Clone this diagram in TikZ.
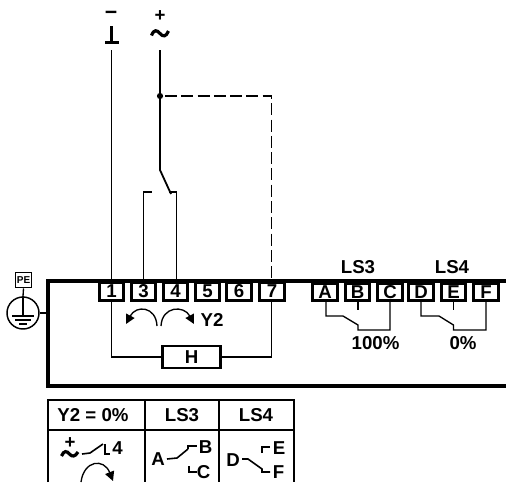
\documentclass[tikz,border=0pt]{standalone}
\usepackage{fontspec}
\setmainfont{Liberation Sans}
\usetikzlibrary{arrows.meta}
\tikzset{
  x=0.75pt,y=-0.75pt,
  lab/.style={inner sep=0pt,font=\fontsize{14}{15}\selectfont\bfseries},
  term/.style={draw,line width=2.2pt,minimum width=18.6pt,minimum height=13pt,inner sep=0pt,font=\fontsize{14}{15}\selectfont\bfseries},
  wire/.style={line width=1pt},
  frame/.style={line width=2.6pt},
  thickw/.style={line width=1.35pt},
  tline/.style={line width=1.15pt},
  sym/.style={line width=1.2pt},
  turn/.style={line width=1pt,-{Triangle[length=7pt,width=7pt]}},
}
\begin{document}
\begin{tikzpicture}
\useasboundingbox (0,0) rectangle (506,482);
% frame
\coordinate (ftr) at (506,281);
\coordinate (ftl) at (48,281);
\coordinate (fbl) at (48,386);
\coordinate (fbr) at (506,386);
\draw[frame,line cap=butt] (ftr) -- (ftl) -- (fbl) -- (fbr);
% terminals
\foreach \n/\x in {1/111.5,3/143.5,4/175.5,5/207.5,6/239,7/272}
  \node[term,fill=white] (t\n) at (\x,291.5) {\n};
\foreach \n/\x in {A/325,B/357.5,C/390,D/421,E/453.5,F/486}
  \node[term,fill=white] (t\n) at (\x,292) {\n};
% supply
\node[lab,font=\fontsize{16}{16}\selectfont\bfseries] (minus) at (111,15) {−};
\node[lab] (plus) at (160,16.5) {+};
\coordinate (gt) at (111.5,26);
\coordinate (gb) at (111.5,42.5);
\draw[line width=2.2pt] (gt) -- (gb);
\draw[line width=2.4pt] (105,42.5) -- (118.5,42.5);
\draw[line width=2.4pt] (151.5,35.5) .. controls (154,29) and (157,30) .. (160,33.5) .. controls (163,37) and (166,37) .. (168.5,31);
\coordinate (gw) at (111.5,50);
\coordinate (pw) at (160,50);
\coordinate (dot) at (160,96);
\coordinate (dots) at (165,96);
\coordinate (sw) at (160,170);
\coordinate (swe) at (171,194);
\coordinate (c3) at (143.5,192);
\coordinate (c3e) at (152,192);
\coordinate (c4) at (176.5,192);
\coordinate (c4b) at (176.5,281);
\coordinate (c4e) at (169,192);
\coordinate (dc) at (271.5,96);
\coordinate (dcb) at (271.5,281);
\draw[wire] (gw) -- (t1.north);
\draw[thickw] (pw) -- (dot) -- (sw) -- (swe);
\fill (dot) circle (3.1);
\draw[line width=1.4pt,dash pattern=on 9pt off 3.2pt] (dots) -- (dc) -- (dcb);
\draw[wire] (t3.north) -- (c3) -- (c3e);
\draw[wire] (c4b) -- (c4) -- (c4e);
% H
\node[term,minimum width=43.5pt,minimum height=16.5pt,line width=1.7pt] (H) at (191.5,357) {H};
\coordinate (h1) at (111.5,357);
\coordinate (h7) at (271.5,357);
\coordinate (h7b) at (271.5,301);
\draw[wire] (t1.south) -- (h1) -- (H.west);
\draw[wire] (H.east) -- (h7) -- (h7b);
% direction arrows
\node[lab] (y2) at (212,319.5) {Y2};
\coordinate (a1) at (157,326);
\coordinate (a2) at (126,324);
\coordinate (a3) at (161,326);
\coordinate (a4) at (194,324);
\draw[turn] (a1) .. controls (156,306) and (136,305) .. (a2);
\draw[turn] (a3) .. controls (162,306) and (184,305) .. (a4);
% PE
\node[draw,line width=1.2pt,minimum width=12pt,minimum height=11.5pt,inner sep=0pt,font=\fontsize{7.5}{8}\selectfont\bfseries] (pe) at (23.5,280) {PE};
\node[draw,circle,line width=1.1pt,minimum size=24pt,inner sep=0pt] (gnd) at (23,313) {};
\draw[wire] (pe.south) -- (gnd.north);
\draw[wire] (gnd.east) -- (ftl |- gnd.east);
\draw[line width=1pt] (gnd.north) -- (23,316);
\draw[line width=1.1pt] (12,316) -- (34,316);
\draw[line width=1.1pt] (15,320) -- (31,320);
\draw[line width=1.1pt] (19,324) -- (27,324);
% LS switches
\node[lab] (ls3) at (358,267) {LS3};
\node[lab] (ls4) at (452,267) {LS4};
\node[lab] (p100) at (375.5,343.5) {100\%};
\node[lab] (p0) at (463,343.5) {0\%};
\coordinate (ka) at (326,316);
\coordinate (kb) at (343,316);
\coordinate (kc) at (358,325);
\coordinate (kd) at (358,330);
\coordinate (ke) at (390,330);
\coordinate (kf) at (358,310);
\draw[wire] (tA.south -| ka) -- (ka) -- (kb) -- (kc) -- (kd) -- (ke) -- (tC.south -| ke);
\draw[wire] (tB.south -| kf) -- (kf);
\coordinate (la) at (421,316);
\coordinate (lb) at (439,316);
\coordinate (lc) at (453.5,325);
\coordinate (ld) at (453.5,330);
\coordinate (le) at (486,330);
\coordinate (lf) at (453.5,310);
\draw[wire] (tD.south -| la) -- (la) -- (lb) -- (lc) -- (ld) -- (le) -- (tF.south -| le);
\draw[wire] (tE.south -| lf) -- (lf);
% table
\coordinate (tl) at (48,400);
\coordinate (tr) at (294,400);
\coordinate (ml) at (48,430);
\coordinate (mr) at (294,430);
\coordinate (bl) at (48,482);
\coordinate (br) at (294,482);
\coordinate (c1t) at (145,400);
\coordinate (c1b) at (145,482);
\coordinate (c2t) at (219,400);
\coordinate (c2b) at (219,482);
\draw[tline] (bl) -- (tl) -- (tr) -- (br);
\draw[tline] (ml) -- (mr);
\draw[tline] (c1t) -- (c1b);
\draw[tline] (c2t) -- (c2b);
\node[lab] (hy) at (93,415.5) {Y2 = 0\%};
\node[lab] (hl3) at (182,415.5) {LS3};
\node[lab] (hl4) at (256,415.5) {LS4};
% table: Y2 cell
\node[lab] (p2) at (70,443) {+};
\draw[line width=2.4pt] (61.5,456) .. controls (64,450) and (67,451) .. (69.5,454) .. controls (72,457) and (75,457) .. (78,452);
\coordinate (y0) at (82,454);
\coordinate (y1) at (90,453);
\coordinate (y2a) at (103,444);
\coordinate (y3) at (105,444);
\coordinate (y4) at (105,454);
\coordinate (y5) at (110,454);
\draw[sym] (y0) -- (y1) -- (y2a);
\draw[sym] (y3) -- (y4) -- (y5);
\node[lab] (n4) at (117.5,448.5) {4};
\coordinate (b1) at (81,482);
\coordinate (b2) at (113,481);
\draw[turn] (b1) .. controls (84,460) and (104,458) .. (b2);
% table: LS3 cell
\node[lab] (ca) at (158,459.5) {A};
\coordinate (d0) at (167,459);
\coordinate (d1) at (177,458);
\coordinate (d2) at (188,449);
\coordinate (d3) at (188,446);
\coordinate (d4) at (197,446);
\coordinate (d5) at (189,466);
\coordinate (d6) at (189,472);
\coordinate (d7) at (197,472);
\draw[sym] (d0) -- (d1) -- (d2);
\draw[sym] (d2) -- (d3) -- (d4);
\draw[sym] (d5) -- (d6) -- (d7);
\node[lab] (cb) at (205.5,447.5) {B};
\node[lab] (cc) at (203.5,472.5) {C};
% table: LS4 cell
\node[lab] (cd) at (233,460) {D};
\coordinate (e0) at (242,459);
\coordinate (e1) at (248,459);
\coordinate (e2) at (262,469);
\coordinate (e3) at (262,472);
\coordinate (e4) at (270,472);
\coordinate (e5) at (262,453);
\coordinate (e6) at (262,447);
\coordinate (e7) at (270,447);
\draw[sym] (e0) -- (e1) -- (e2) -- (e3) -- (e4);
\draw[sym] (e5) -- (e6) -- (e7);
\node[lab] (ce) at (279,448) {E};
\node[lab] (cf) at (278.5,472.5) {F};
\end{tikzpicture}
\end{document}
